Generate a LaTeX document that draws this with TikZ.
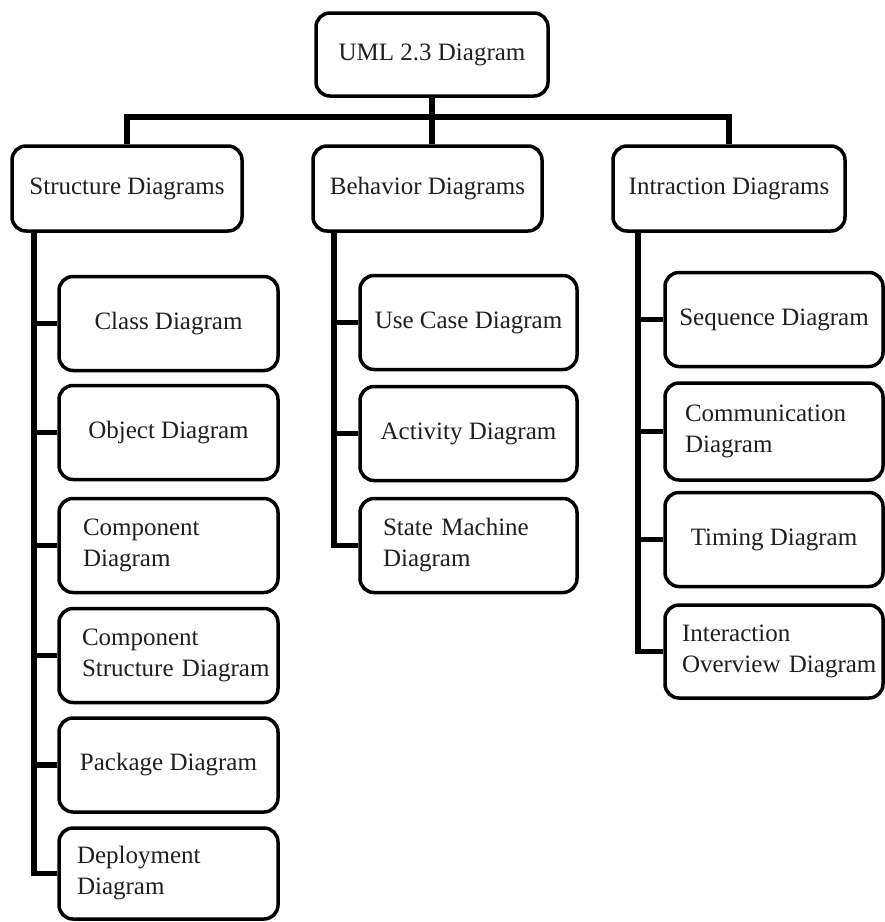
\documentclass[tikz,border=0pt]{standalone}
\usepackage{fontspec}
\setmainfont{Liberation Serif}
\begin{document}
\begin{tikzpicture}[x=1pt,y=-1pt,
  box/.style={draw=black, line width=3.5pt, rounded corners=14pt, fill=white,
    font=\fontsize{25}{31}\selectfont, inner sep=0pt, text=black!88},
  top/.style={box, minimum height=85pt},
  child/.style={box, minimum height=94pt},
  conn/.style={line width=5.5pt, line join=miter, draw=black}]
\useasboundingbox (0,0) rectangle (885,922);

% root and level 2
\node[top, minimum width=232pt, minimum height=83pt] (root) at (432,54.5) {UML 2.3 Diagram};
\node[top, minimum width=230pt] (str) at (127,188.5) {Structure Diagrams};
\node[top, minimum width=229pt] (beh) at (427.5,188.5) {Behavior Diagrams};
\node[top, minimum width=232pt] (int) at (729,188.5) {Intraction Diagrams};

% structure children
\node[child, minimum width=219pt] (cls) at (168.5,323.5) {Class Diagram};
\node[child, minimum width=219pt] (obj) at (168.5,432.5) {Object Diagram};
\node[child, minimum width=219pt, align=left, inner xsep=24pt, text width=171pt] (cmp) at (168.5,545.5) {Component\\Diagram};
\node[child, minimum width=219pt, align=left, inner xsep=23pt, text width=173pt] (cst) at (168.5,655.5) {Component\\\mbox{Structure Diagram}};
\node[child, minimum width=219pt] (pkg) at (168.5,765) {Package Diagram};
\node[child, minimum width=219pt, minimum height=91pt, align=left, inner xsep=18pt, text width=183pt] (dep) at (168.5,873.5) {Deployment\\Diagram};

% behavior children
\node[child, minimum width=217pt] (use) at (468.5,322.5) {Use Case Diagram};
\node[child, minimum width=217pt] (act) at (468.5,433.5) {Activity Diagram};
\node[child, minimum width=217pt, align=left, inner xsep=23pt, text width=171pt] (stm) at (468.5,545.5) {State Machine\\Diagram};

% interaction children
\node[child, minimum width=218pt] (seq) at (774,319.5) {Sequence Diagram};
\node[child, minimum width=218pt, minimum height=97pt, align=left, inner xsep=20pt, text width=178pt] (com) at (774,431.5) {Communication\\Diagram};
\node[child, minimum width=218pt] (tim) at (774,539.5) {Timing Diagram};
\node[child, minimum width=218pt, minimum height=93pt, align=left, inner xsep=17pt, text width=184pt] (ino) at (774,651.5) {Interaction\\\mbox{Overview Diagram}};

% trunk connectors
\coordinate (bar) at (432,117);
\draw[conn] (root.south) -- (root.south |- beh.north);
\draw[conn] (str.north) |- (bar) -| (int.north);

% structure branch
\coordinate (sv) at (34,0);
\draw[conn] (sv |- str.south) |- (dep.west);
\foreach \n in {cls,obj,cmp,cst,pkg}{\draw[conn] (sv |- \n.west) -- (\n.west);}

% behavior branch
\coordinate (bv) at (334,0);
\draw[conn] (bv |- beh.south) |- (stm.west);
\foreach \n in {use,act}{\draw[conn] (bv |- \n.west) -- (\n.west);}

% interaction branch
\coordinate (iv) at (638,0);
\draw[conn] (iv |- int.south) |- (ino.west);
\foreach \n in {seq,com,tim}{\draw[conn] (iv |- \n.west) -- (\n.west);}
\end{tikzpicture}
\end{document}
